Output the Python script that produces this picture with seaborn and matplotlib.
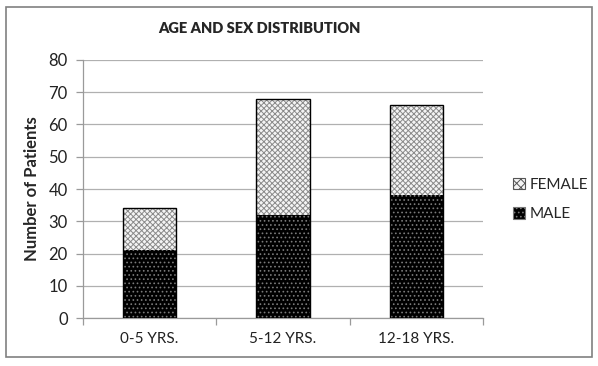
import matplotlib
matplotlib.use("Agg")
import matplotlib.pyplot as plt
import seaborn as sns
import pandas as pd
from matplotlib.patches import Patch, Rectangle

categories = ["0-5 YRS.", "5-12 YRS.", "12-18 YRS."]
male = [21, 32, 38]
female = [13, 36, 28]
total = [m + f for m, f in zip(male, female)]
yticks = [0, 10, 20, 30, 40, 50, 60, 70, 80]

df = pd.DataFrame({"group": categories, "male": male, "female": female, "total": total})

sns.set_theme(style="white")
plt.rcParams['font.family'] = ['Lato', 'DejaVu Sans']
plt.rcParams['hatch.linewidth'] = 0.7

fig = plt.figure(figsize=(5.98, 3.66), dpi=100)
ax = fig.add_axes([0.1388, 0.1311, 0.669, 0.705])

W = 0.4
# female (stacked total) layer
sns.barplot(data=df, x="group", y="total", order=categories, width=W, ax=ax,
            color="#f4f4f4", edgecolor="#8a8a8a", linewidth=0, hatch="xxxxxx", zorder=2)
# male layer
sns.barplot(data=df, x="group", y="male", order=categories, width=W, ax=ax,
            color="black", edgecolor="#7a7a7a", linewidth=0, hatch="....", zorder=3)
# outlines
sns.barplot(data=df, x="group", y="total", order=categories, width=W, ax=ax,
            fill=False, edgecolor="black", linewidth=1.0, zorder=4)

ax.set_ylim(0, 80)
ax.set_xlim(-0.5, 2.5)
ax.set_yticks(yticks)
ax.yaxis.grid(True, color="#b0b0b0", linewidth=0.9)
ax.set_axisbelow(True)
for s in ["top", "right"]:
    ax.spines[s].set_visible(False)
for s in ["left", "bottom"]:
    ax.spines[s].set_color("#9a9a9a")
    ax.spines[s].set_linewidth(0.9)
ax.tick_params(axis="y", length=5, color="#9a9a9a", width=0.9, labelsize=12, pad=6, left=True)
ax.tick_params(axis="x", length=0, labelsize=11, pad=10)
ax.set_xticks([-0.5, 0.5, 1.5, 2.5], minor=True)
ax.tick_params(axis="x", which="minor", length=5, color="#9a9a9a", width=0.9, bottom=True)
ax.set_xlabel("")
ax.set_ylabel("Number of Patients", fontsize=12, fontweight="bold", labelpad=6)
for lbl in ax.get_yticklabels() + ax.get_xticklabels():
    lbl.set_color("#222222")

fig.text(0.433, 0.921, "AGE AND SEX DISTRIBUTION", ha="center", va="center",
         fontsize=10.5, fontweight="heavy")

handles = [Patch(facecolor="#f4f4f4", edgecolor="#555555", hatch="xxxx", linewidth=0.8),
           Patch(facecolor="black", edgecolor="#777777", hatch="....", linewidth=0.8)]
fig.legend(handles, ["FEMALE", "MALE"], loc="center left", bbox_to_anchor=(0.835, 0.455),
           frameon=False, fontsize=11, handlelength=0.8, handleheight=0.8,
           handletextpad=0.3, labelspacing=1.0)

fig.patches.append(Rectangle((0.010, 0.025), 0.980, 0.955, transform=fig.transFigure,
                             fill=False, edgecolor="#808080", linewidth=1.2))

fig.savefig("out.png", dpi=100)
